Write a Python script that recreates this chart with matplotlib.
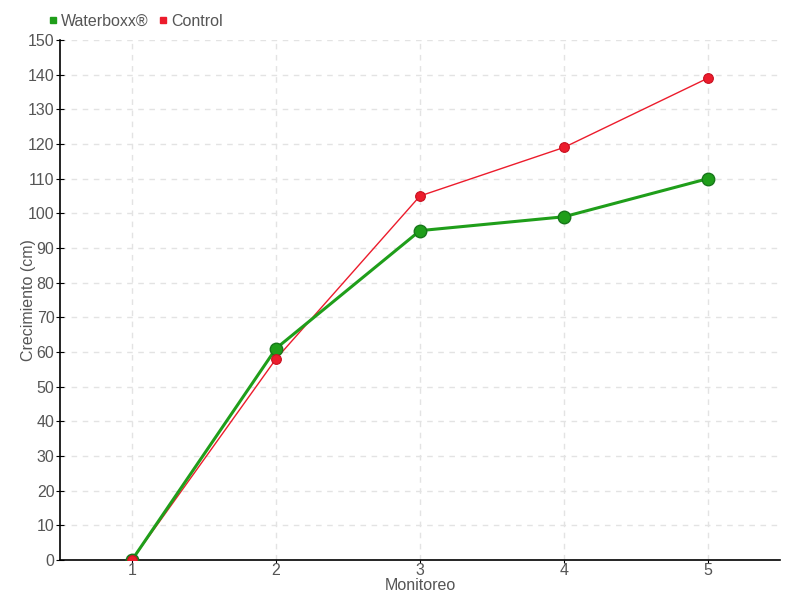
import matplotlib.pyplot as plt
from matplotlib.lines import Line2D

# ======== Data ========
monitoreo = [1, 2, 3, 4, 5]
waterboxx = [0, 61, 95, 99, 110]
control = [0, 58, 105, 119, 139]

green = '#1f9e1a'
red = '#ec1c2c'
text_color = '#555555'

plt.rcParams['font.family'] = ['Liberation Sans', 'DejaVu Sans']
fs = 11.5

fig = plt.figure(figsize=(8, 6), dpi=100)
ax = fig.add_axes([0.075, 0.0667, 0.9, 0.8667])

ax.plot(monitoreo, control, color=red, lw=1, zorder=2)
ax.plot(monitoreo, waterboxx, color=green, lw=2.2, marker='o', markersize=9,
        markeredgecolor='#17771a', markeredgewidth=1, zorder=3)
ax.plot(monitoreo, control, color=red, lw=0, marker='o', markersize=7,
        markeredgecolor='#c81020', markeredgewidth=0.8, zorder=4)

ax.set_xlim(0.5, 5.5)
ax.set_ylim(0, 150)
ax.set_xticks(monitoreo)
ax.set_yticks(range(0, 151, 10))

ax.grid(True, color='#e3e3e3', linestyle=(0, (4, 4)), lw=1)
ax.set_axisbelow(True)
for s in ['top', 'right']:
    ax.spines[s].set_visible(False)
ax.spines['left'].set_linewidth(1.2)
ax.spines['bottom'].set_linewidth(1.2)
ax.tick_params(axis='y', direction='inout', length=6, pad=1, labelsize=fs, labelcolor=text_color)
ax.tick_params(axis='x', direction='out', length=2, pad=0, labelsize=fs, labelcolor=text_color)

ax.set_xlabel('Monitoreo', fontsize=fs, color=text_color)
ax.set_ylabel('Crecimiento (cm)', fontsize=fs, color=text_color)
ax.xaxis.set_label_coords(0.5, -0.035)
ax.yaxis.set_label_coords(-0.033, 0.5)

legend_elements = [
    Line2D([0], [0], color=green, lw=0, marker='s', markersize=5, label='Waterboxx®'),
    Line2D([0], [0], color=red, lw=0, marker='s', markersize=5, label='Control'),
]
leg = ax.legend(handles=legend_elements, loc='lower left', bbox_to_anchor=(-0.032, 1.0),
                ncol=2, frameon=False, fontsize=fs, handlelength=0.6,
                handletextpad=0.2, columnspacing=0.6, borderaxespad=0.3)
for t in leg.get_texts():
    t.set_color(text_color)

plt.savefig('out.png', dpi=100)
